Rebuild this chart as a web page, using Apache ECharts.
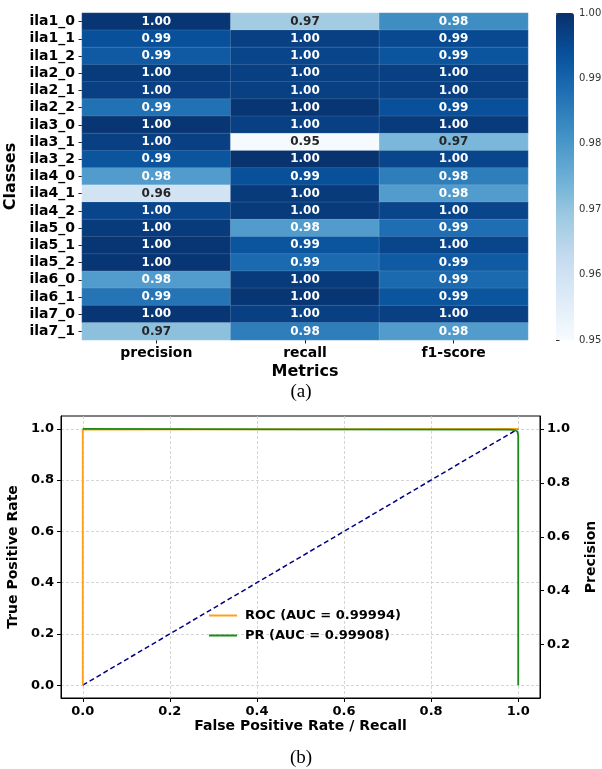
<!DOCTYPE html>
<html><head><meta charset="utf-8">
<script src="https://cdn.jsdelivr.net/npm/echarts@6/dist/echarts.min.js"></script>
<style>html,body{margin:0;padding:0;background:#fff}#c{width:602px;height:769px}</style>
</head><body><div id="c"></div>
<script>
const classes = ['ila1_0','ila1_1','ila1_2','ila2_0','ila2_1','ila2_2','ila3_0','ila3_1','ila3_2','ila4_0','ila4_1','ila4_2','ila5_0','ila5_1','ila5_2','ila6_0','ila6_1','ila7_0','ila7_1'];
const metrics = ['precision','recall','f1-score'];
const precision = [0.999,0.994,0.992,0.998,0.997,0.9875,0.999,0.997,0.993,0.979,0.9595,0.996,0.998,0.999,0.999,0.979,0.987,0.999,0.971];
const recall    = [0.968,0.997,0.996,0.997,0.997,0.999,0.997,0.9505,0.9995,0.994,0.998,0.998,0.979,0.993,0.989,0.998,0.999,0.997,0.985];
const f1score   = [0.982,0.995,0.993,0.997,0.997,0.994,0.998,0.973,0.996,0.985,0.979,0.996,0.988,0.996,0.992,0.989,0.993,0.997,0.979];
const cbarMin = 0.95, cbarMax = 1.0, cbarStep = 0.01;

const rocFpr = [0, 0, 0.001, 1];
const rocTpr = [0, 0.997, 1, 1];
const prRecall    = [0, 0.5, 0.98, 0.993, 0.998, 1, 1];
const prPrecision = [1.0, 0.998, 0.997, 0.995, 0.99, 0.975, 0.05];
const chanceX = [0, 1];
const chanceY = [0, 1];
const rateTicks = [0, 0.2, 0.4, 0.6, 0.8, 1.0];
const precisionTicks = [0.2, 0.4, 0.6, 0.8, 1.0];
const rocName = 'ROC (AUC = 0.99994)';
const prName = 'PR (AUC = 0.99908)';

const blues = ['#f7fbff','#deebf7','#c6dbef','#9ecae1','#6baed6','#4292c6','#2171b5','#08519c','#08306b'];
const F = 'DejaVu Sans';

const cols = [precision, recall, f1score];
const heatData = [];
cols.forEach((arr, ci) => arr.forEach((v, ri) => {
  heatData.push({value: [ci, ri, v], label: {color: v < 0.976 ? '#262626' : '#ffffff'}});
}));
const zip = (a, b) => a.map((x, i) => [x, b[i]]);

const chart = echarts.init(document.getElementById('c'), null, {renderer: 'canvas'});
chart.setOption({
  animation: false,
  backgroundColor: '#fff',
  title: [
    {text: '(a)', left: 'center', top: 378, textStyle: {fontFamily: 'Liberation Serif', fontWeight: 'normal', fontSize: 19, color: '#000'}},
    {text: '(b)', left: 'center', top: 744, textStyle: {fontFamily: 'Liberation Serif', fontWeight: 'normal', fontSize: 19, color: '#000'}}
  ],
  grid: [
    {left: 82, top: 13, width: 446, height: 327, outerBoundsMode: 'none', containLabel: false},
    {left: 556, top: 13, width: 18, height: 327, outerBoundsMode: 'none', containLabel: false},
    {left: 61, top: 416, width: 479, height: 282, show: true, borderColor: '#000', borderWidth: 1, outerBoundsMode: 'none', containLabel: false}
  ],
  visualMap: {
    type: 'continuous', min: cbarMin, max: cbarMax, seriesIndex: 0, calculable: false, show: true,
    left: 556, top: 13, itemWidth: 18, itemHeight: 327, padding: 0, text: null, hoverLink: false,
    inRange: {color: blues}
  },
  legend: {
    data: [rocName, prName], orient: 'vertical', left: 204, top: 604, itemWidth: 28, itemHeight: 2, itemGap: 7,
    icon: 'rect', textStyle: {fontFamily: F, fontWeight: 'bold', fontSize: 13, color: '#000', padding: [0,0,0,3]}
  },
  xAxis: [
    {type: 'category', gridIndex: 0, data: metrics, position: 'bottom',
     axisLine: {show: false}, axisTick: {show: true, alignWithLabel: true, length: 3.5, lineStyle: {color: '#222'}},
     axisLabel: {interval: 0, fontFamily: F, fontWeight: 'bold', fontSize: 14, color: '#000', margin: 6},
     splitLine: {show: false},
     name: 'Metrics', nameLocation: 'middle', nameGap: 24,
     nameTextStyle: {fontFamily: F, fontWeight: 'bold', fontSize: 16, color: '#000'}},
    {type: 'value', gridIndex: 1, show: false, min: 0, max: 1},
    {type: 'value', gridIndex: 2, min: -0.05, max: 1.05,
     axisLine: {show: true, onZero: false, lineStyle: {color: '#000'}},
     axisTick: {show: true, length: 4, customValues: rateTicks, lineStyle: {color: '#000'}},
     axisLabel: {customValues: rateTicks, formatter: v => v.toFixed(1), fontFamily: F, fontWeight: 'bold', fontSize: 13, color: '#000', margin: 7},
     splitLine: {show: true, lineStyle: {color: '#cccccc', type: [3, 2], width: 0.8}},
     name: 'False Positive Rate / Recall', nameLocation: 'middle', nameGap: 20,
     nameTextStyle: {fontFamily: F, fontWeight: 'bold', fontSize: 14, color: '#000'}}
  ],
  yAxis: [
    {type: 'category', gridIndex: 0, data: classes, inverse: true,
     axisLine: {show: false}, axisTick: {show: true, alignWithLabel: true, length: 3.5, lineStyle: {color: '#222'}},
     axisLabel: {interval: 0, fontFamily: F, fontWeight: 'bold', fontSize: 14, color: '#000', margin: 7},
     splitLine: {show: false},
     name: 'Classes', nameLocation: 'middle', nameGap: 61,
     nameTextStyle: {fontFamily: F, fontWeight: 'bold', fontSize: 16, color: '#000'}},
    {type: 'value', gridIndex: 1, position: 'right', min: cbarMin, max: cbarMax, interval: cbarStep,
     axisLine: {show: false}, axisTick: {show: true, length: 3.5, lineStyle: {color: '#333'}},
     axisLabel: {formatter: v => v.toFixed(2), fontFamily: F, fontSize: 10, color: '#333', margin: 5},
     splitLine: {show: false}},
    {type: 'value', gridIndex: 2, position: 'left', min: -0.05, max: 1.05,
     axisLine: {show: true, onZero: false, lineStyle: {color: '#000'}},
     axisTick: {show: true, length: 4, customValues: rateTicks, lineStyle: {color: '#000'}},
     axisLabel: {customValues: rateTicks, formatter: v => v.toFixed(1), fontFamily: F, fontWeight: 'bold', fontSize: 13, color: '#000', margin: 7},
     splitLine: {show: true, lineStyle: {color: '#cccccc', type: [3, 2], width: 0.8}},
     name: 'True Positive Rate', nameLocation: 'middle', nameGap: 34,
     nameTextStyle: {fontFamily: F, fontWeight: 'bold', fontSize: 14, color: '#000'}},
    {type: 'value', gridIndex: 2, position: 'right', min: 0.0025, max: 1.0475,
     axisLine: {show: true, onZero: false, lineStyle: {color: '#000'}},
     axisTick: {show: true, length: 4, customValues: precisionTicks, lineStyle: {color: '#000'}},
     axisLabel: {customValues: precisionTicks, formatter: v => v.toFixed(1), fontFamily: F, fontWeight: 'bold', fontSize: 13, color: '#000', margin: 7},
     splitLine: {show: false},
     name: 'Precision', nameLocation: 'middle', nameGap: 44,
     nameTextStyle: {fontFamily: F, fontWeight: 'bold', fontSize: 14, color: '#000'}}
  ],
  series: [
    {type: 'heatmap', xAxisIndex: 0, yAxisIndex: 0, data: heatData,
     itemStyle: {borderColor: 'rgba(255,255,255,0.22)', borderWidth: 0.6},
     label: {show: true, formatter: p => p.value[2].toFixed(2), fontFamily: F, fontWeight: 'bold', fontSize: 12},
     emphasis: {disabled: true}},
    {type: 'line', name: 'chance', xAxisIndex: 2, yAxisIndex: 2, data: zip(chanceX, chanceY), showSymbol: false, silent: true,
     lineStyle: {color: '#000080', width: 1.5, type: [5, 3]}},
    {type: 'line', name: rocName, xAxisIndex: 2, yAxisIndex: 2, data: zip(rocFpr, rocTpr), showSymbol: false,
     itemStyle: {color: '#ff9f1a'}, lineStyle: {color: '#ff9f1a', width: 1.8}},
    {type: 'line', name: prName, xAxisIndex: 2, yAxisIndex: 3, data: zip(prRecall, prPrecision), showSymbol: false,
     itemStyle: {color: '#1a8a1a'}, lineStyle: {color: '#1a8a1a', width: 1.8}}
  ]
});
</script></body></html>
